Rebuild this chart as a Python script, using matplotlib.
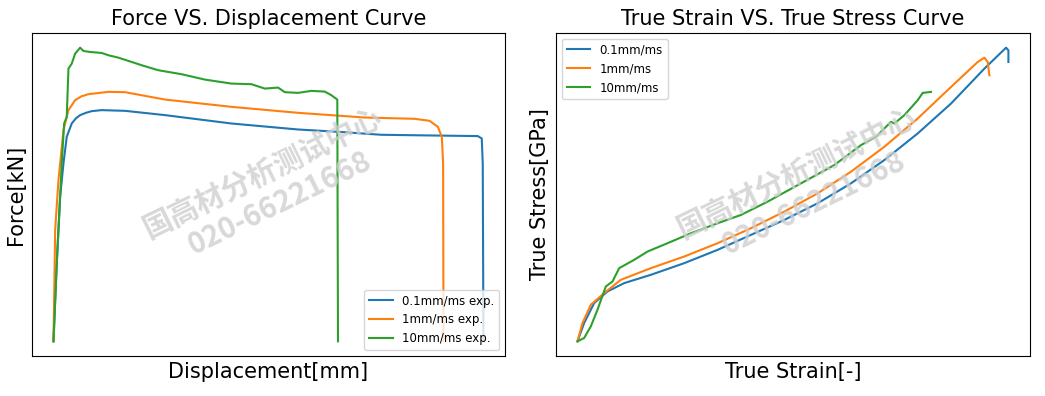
import matplotlib
matplotlib.use('Agg')
import matplotlib.pyplot as plt

# Force vs displacement
disp_01 = [0, 0.33, 0.67, 1.0, 1.33, 1.83, 2.25, 2.67, 3.25, 3.83, 4.83, 7.17, 11.17, 17.83, 24.5,
           28.5, 32.83, 37.83, 42.5, 42.9, 43.0, 43.07]
force_01 = [0, 7.83, 14.5, 17.83, 20.5, 21.83, 22.35, 22.67, 22.9, 23.07, 23.17, 23.1, 22.67, 21.83,
            21.23, 21.0, 20.7, 20.63, 20.57, 20.33, 17.83, 0]

disp_1 = [0, 0.17, 0.5, 1.0, 1.5, 2.17, 2.8, 3.5, 5.5, 7.17, 11.17, 17.83, 24.5, 31.17, 36.17,
          37.67, 38.5, 38.9, 39.03, 39.07]
force_1 = [0, 11.17, 16.17, 21.17, 23.17, 24.17, 24.55, 24.77, 25.0, 24.97, 24.23, 23.5, 22.9, 22.43,
           22.3, 22.1, 21.5, 20.5, 17.83, 0]

disp_10 = [0, 0.33, 0.83, 1.07, 1.33, 1.5, 1.83, 2.17, 2.67, 3.0, 3.67, 4.83, 5.5, 6.5, 7.83,
           8.83, 10.5, 12.83, 15.17, 17.83, 19.83, 21.17, 22.5, 23.17, 24.5, 25.83, 27.17, 27.83,
           28.43, 28.5]
force_10 = [0, 7.83, 17.83, 21.83, 22.5, 27.33, 27.83, 28.83, 29.43, 29.1, 29.0, 28.9, 28.67, 28.43,
            28.0, 27.67, 27.17, 26.77, 26.23, 25.83, 25.77, 25.33, 25.43, 24.97, 24.9, 25.1, 25.03,
            24.67, 24.23, 0]

# True strain vs true stress
strain_01 = [0, 0.01, 0.025, 0.045, 0.07, 0.11, 0.16, 0.21, 0.26, 0.31, 0.36, 0.41, 0.46, 0.51,
             0.56, 0.61, 0.6425, 0.646, 0.646]
stress_01 = [0, 0.055, 0.115, 0.15, 0.175, 0.2, 0.235, 0.275, 0.32, 0.365, 0.415, 0.475, 0.545,
             0.625, 0.715, 0.82, 0.883, 0.875, 0.84]

strain_1 = [0, 0.0075, 0.02, 0.04, 0.065, 0.11, 0.16, 0.21, 0.26, 0.31, 0.36, 0.41, 0.46, 0.51,
            0.56, 0.6, 0.61, 0.615, 0.6175]
stress_1 = [0, 0.055, 0.11, 0.145, 0.185, 0.22, 0.255, 0.295, 0.34, 0.39, 0.445, 0.51, 0.585,
            0.67, 0.765, 0.84, 0.853, 0.84, 0.8]

strain_10 = [0, 0.01, 0.02, 0.03, 0.0425, 0.0525, 0.0625, 0.085, 0.105, 0.135, 0.17, 0.21, 0.245,
             0.285, 0.335, 0.385, 0.425, 0.4475, 0.47, 0.475, 0.49, 0.51, 0.5175, 0.53]
stress_10 = [0, 0.01, 0.045, 0.095, 0.165, 0.18, 0.22, 0.245, 0.27, 0.295, 0.325, 0.355, 0.38,
             0.42, 0.475, 0.53, 0.59, 0.615, 0.66, 0.655, 0.68, 0.725, 0.747, 0.75]

fig = plt.figure(figsize=(10.45, 3.96), dpi=100)
ax1 = fig.add_axes([0.0306, 0.101, 0.4526, 0.8157])
ax2 = fig.add_axes([0.532, 0.101, 0.4536, 0.8157])

ax1.plot(disp_01, force_01, label='0.1mm/ms exp.')
ax1.plot(disp_1, force_1, label='1mm/ms exp.')
ax1.plot(disp_10, force_10, label='10mm/ms exp.')
ax1.set_title('Force VS. Displacement Curve', fontsize=15)
ax1.set_xlabel('Displacement[mm]', fontsize=15)
ax1.set_ylabel('Force[kN]', fontsize=15)
ax1.set_xticks([])
ax1.set_yticks([])
ax1.legend(loc='lower right', fontsize=8.5)

ax2.plot(strain_01, stress_01, label='0.1mm/ms')
ax2.plot(strain_1, stress_1, label='1mm/ms')
ax2.plot(strain_10, stress_10, label='10mm/ms')
ax2.set_title('True Strain VS. True Stress Curve', fontsize=15)
ax2.set_xlabel('True Strain[-]', fontsize=15)
ax2.set_ylabel('True Stress[GPa]', fontsize=15)
ax2.set_xticks([])
ax2.set_yticks([])
ax2.legend(loc='upper left', fontsize=8.5)

# watermark
for cx in [263, 797]:
    fig.text(cx / 1045, 1 - 173 / 396, '国高材分析测试中心', fontsize=21, fontweight='bold',
             family=['Noto Sans CJK SC', 'DejaVu Sans'], color='#cfcfcf', alpha=0.8,
             rotation=26, ha='center', va='center')
    fig.text((cx + 17) / 1045, 1 - 203 / 396, '020-66221668', fontsize=21, fontweight='bold',
             family=['Noto Sans CJK SC', 'DejaVu Sans'], color='#cfcfcf', alpha=0.8,
             rotation=26, ha='center', va='center')

fig.savefig('out.png', dpi=100)
